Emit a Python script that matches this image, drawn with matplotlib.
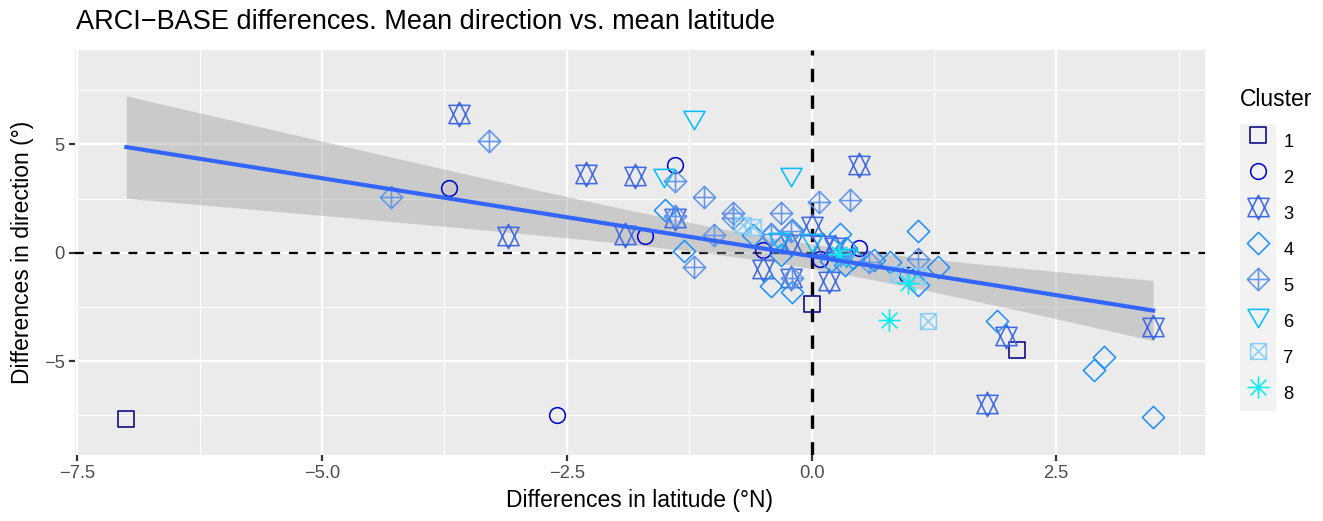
import numpy as np
import matplotlib
matplotlib.use("Agg")
import matplotlib.pyplot as plt
from matplotlib.path import Path
from matplotlib.lines import Line2D
from matplotlib.patches import Rectangle
from matplotlib.ticker import FixedLocator, AutoMinorLocator, FuncFormatter

plt.rcParams['font.family'] = ['Liberation Sans', 'DejaVu Sans']

# ARCI-BASE differences per point
# cluster 1
c1_lat = [-7.0, 0.0, 2.1]
c1_dir = [-7.65, -2.35, -4.47]
# cluster 2
c2_lat = [-3.7, -2.6, -1.7, -1.4, -0.5, 0.09, 0.49, 0.98]
c2_dir = [2.98, -7.5, 0.77, 4.05, 0.14, -0.3, 0.2, -1.03]
# cluster 3
c3_lat = [-3.6, -3.1, -2.3, -1.8, -1.91, -1.4, -0.5, -0.21, 0.18, 0.0, 0.49,
          1.79, 1.99, 3.49, -0.21, 0.12, 0.24]
c3_dir = [6.39, 0.75, 3.63, 3.52, 0.8, 1.6, -0.75, -1.17, -1.32, 1.22, 4.06,
          -7.0, -3.85, -3.44, 0.4, 0.35, 0.25]
# cluster 4
c4_lat = [-1.5, -1.3, -0.6, -0.41, -0.31, -0.41, -0.2, -0.2, 0.29, 0.35, 0.2,
          0.34, 0.64, 0.8, 1.09, 1.29, 1.09, 1.89, 2.99, 2.89, 3.49, 0.42]
c4_dir = [1.96, 0.1, 0.8, 0.8, -0.09, -1.55, -1.8, 1.06, 0.85, 0.2, -0.4,
          -0.55, -0.32, -0.43, 1.0, -0.68, -1.47, -3.16, -4.81, -5.39, -7.59, -0.24]
# cluster 5
c5_lat = [-4.3, -3.3, -1.4, -1.1, -1.4, -1.0, -1.2, -0.8, -0.8, -0.31, -0.41,
          -0.21, 0.08, 0.39, -0.2, 1.09, 0.59, 0.29]
c5_dir = [2.57, 5.13, 3.33, 2.55, 1.7, 0.8, -0.67, 1.85, 1.6, 1.83, 0.88,
          1.0, 2.34, 2.41, -1.15, -0.3, -0.42, -0.09]
# cluster 6
c6_lat = [-1.2, -0.21, -1.51, -0.33, 0.0, 0.35]
c6_dir = [6.27, 3.65, 3.6, 0.65, 0.6, -0.12]
# cluster 7
c7_lat = [-0.7, -0.6, 0.88, 1.08, 1.19]
c7_dir = [1.3, 1.2, -0.97, -1.06, -3.16]
# cluster 8
c8_lat = [0.79, 0.99, 0.28]
c8_dir = [-3.09, -1.38, -0.05]

clusters = ["1", "2", "3", "4", "5", "6", "7", "8"]
lats = [c1_lat, c2_lat, c3_lat, c4_lat, c5_lat, c6_lat, c7_lat, c8_lat]
dirs = [c1_dir, c2_dir, c3_dir, c4_dir, c5_dir, c6_dir, c7_dir, c8_dir]
colors = ["#000080", "#0000CD", "#4169E1", "#1E90FF",
          "#6495ED", "#00BFFF", "#87CEFA", "#00EEEE"]

x_ticks = [-7.5, -5.0, -2.5, 0.0, 2.5]
y_ticks = [-5, 0, 5]

# open R-like point shapes
M, L, C = Path.MOVETO, Path.LINETO, Path.CLOSEPOLY
square = Path([(-1, -1), (1, -1), (1, 1), (-1, 1), (-1, -1)], [M, L, L, L, C])
star = Path([(0, 1), (0.866, -0.75), (-0.866, -0.75), (0, 1),
             (0, -1), (0.866, 0.75), (-0.866, 0.75), (0, -1)],
            [M, L, L, C, M, L, L, C])
diamond = Path([(1, 0), (0, 1), (-1, 0), (0, -1), (1, 0)], [M, L, L, L, C])
diamond_plus = Path([(1, 0), (0, 1), (-1, 0), (0, -1), (1, 0),
                     (-1, 0), (1, 0), (0, -1), (0, 1)],
                    [M, L, L, L, C, M, L, M, L])
tri_down = Path([(0, -1), (0.866, 0.5), (-0.866, 0.5), (0, -1)], [M, L, L, C])
square_x = Path([(-1, -1), (1, -1), (1, 1), (-1, 1), (-1, -1),
                 (-1, -1), (1, 1), (-1, 1), (1, -1)],
                [M, L, L, L, C, M, L, M, L])
a = 0.7071
asterisk = Path([(-1, 0), (1, 0), (0, -1), (0, 1), (-a, -a), (a, a), (-a, a), (a, -a)],
                [M, L, M, L, M, L, M, L])

R = 3.77
shapes = [square, 'o', star, diamond, diamond_plus, tri_down, square_x, asterisk]
sizes = [2 * R, 2 * R, 3.11 * R, 2.83 * R, 2.83 * R, 3.11 * R, 2 * R, 2.83 * R]
mew = 0.75

fig = plt.figure(figsize=(1323 / 150, 521 / 150), dpi=150)
W, H = 1323, 521
ax = fig.add_axes([75 / W, (H - 455) / H, (1205 - 75) / W, (455 - 50) / H])
ax.set_facecolor("#EBEBEB")
for s in ax.spines.values():
    s.set_visible(False)

ax.set_xlim(-7.525, 4.02)
ax.set_ylim(-9.33, 9.35)
ax.xaxis.set_major_locator(FixedLocator(x_ticks))
ax.yaxis.set_major_locator(FixedLocator(y_ticks))
ax.xaxis.set_minor_locator(AutoMinorLocator(2))
ax.yaxis.set_minor_locator(AutoMinorLocator(2))
ax.xaxis.set_major_formatter(FuncFormatter(lambda v, p: f"{v:.1f}".replace("-", "\u2212")))
ax.yaxis.set_major_formatter(FuncFormatter(lambda v, p: f"{v:.0f}".replace("-", "\u2212")))
ax.grid(which='major', color='white', linewidth=1.07)
ax.grid(which='minor', color='white', linewidth=0.53)
ax.set_axisbelow(True)
ax.tick_params(which='major', length=2.75, width=1.07, color='#333333',
               labelsize=8.8, labelcolor='#4D4D4D', pad=2.2)
ax.tick_params(which='minor', length=0)

# dashed zero line (horizontal)
ax.axhline(0, color='black', linewidth=1.07, linestyle=(0, (4, 4)), zorder=1)

# linear fit with 95% band
all_x = np.concatenate([np.array(v) for v in lats])
all_y = np.concatenate([np.array(v) for v in dirs])
n = len(all_x)
slope, icpt = np.polyfit(all_x, all_y, 1)
resid = all_y - (slope * all_x + icpt)
s_err = np.sqrt(np.sum(resid ** 2) / (n - 2))
xbar = all_x.mean()
sxx = np.sum((all_x - xbar) ** 2)
xs = np.linspace(all_x.min(), all_x.max(), 80)
yhat = slope * xs + icpt
half = 1.99 * s_err * np.sqrt(1 / n + (xs - xbar) ** 2 / sxx)
ax.fill_between(xs, yhat - half, yhat + half, color='#999999', alpha=0.4,
                linewidth=0, zorder=2)

ax.axvline(0, color='black', linewidth=1.6, linestyle=(0, (4, 4)), zorder=3)

for lab, xv, yv, col, shp, ms in zip(clusters, lats, dirs, colors, shapes, sizes):
    ax.plot(xv, yv, linestyle='none', marker=shp, markersize=ms,
            markerfacecolor='none', markeredgecolor=col, markeredgewidth=mew,
            zorder=4)

ax.plot(xs, yhat, color='#3366FF', linewidth=2.0, zorder=5)

ax.set_xlabel("Differences in latitude (°N)", fontsize=11, labelpad=3)
ax.set_ylabel("Differences in direction (°)", fontsize=11, labelpad=4.5)
fig.text(76 / W, 1 - 22 / H, "ARCI−BASE differences. Mean direction vs. mean latitude",
         fontsize=13.0, ha='left', va='center')

# legend
handles = [Line2D([], [], linestyle='none', marker=shp, markersize=ms,
                  markerfacecolor='none', markeredgecolor=col, markeredgewidth=mew)
           for col, shp, ms in zip(colors, shapes, sizes)]
leg = fig.legend(handles, clusters, title="Cluster", loc='upper left',
                 bbox_to_anchor=(1240 / W, 1 - 88 / H), frameon=False,
                 fontsize=8.8, title_fontsize=11, handlelength=1.96,
                 handleheight=2.64, labelspacing=0.0, handletextpad=0.4,
                 borderpad=0, borderaxespad=0, numpoints=1)
leg._legend_box.align = "left"
leg._legend_box.sep = 6
fig.canvas.draw()
renderer = fig.canvas.get_renderer()
inv = fig.transFigure.inverted()
das = []
for col_box in leg._legend_handle_box.get_children():
    for row in col_box.get_children():
        das.append(row.get_children()[0].get_window_extent(renderer))
x0 = min(b.x0 for b in das)
x1 = max(b.x1 for b in das)
y0 = min(b.y0 for b in das)
y1 = max(b.y1 for b in das)
(fx0, fy0), (fx1, fy1) = inv.transform([(x0, y0), (x1, y1)])
fig.patches.append(Rectangle((fx0, fy0), fx1 - fx0, fy1 - fy0,
                             transform=fig.transFigure, facecolor='#F2F2F2',
                             edgecolor='none', zorder=-1))

fig.savefig("out.png", dpi=150)
